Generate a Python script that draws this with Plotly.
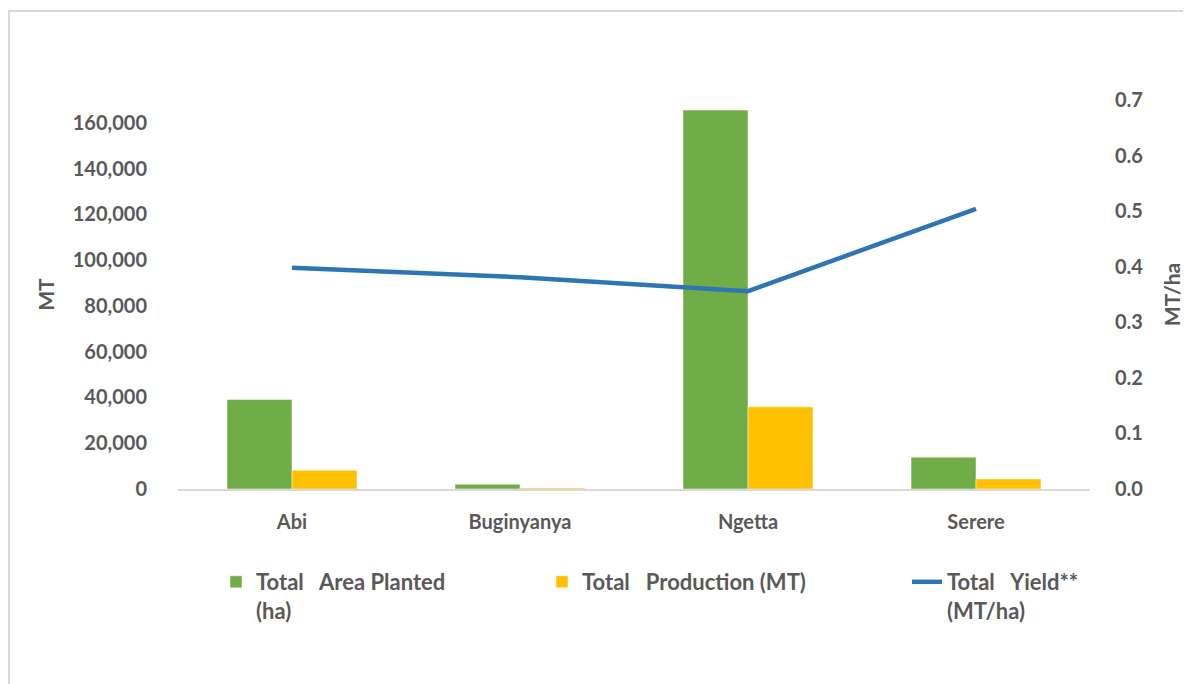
import plotly.graph_objects as go

# data
districts = ['Abi', 'Buginyanya', 'Ngetta', 'Serere']
area_planted = [39100, 2050, 165600, 13900]
production = [8200, 450, 35900, 4400]
yield_mt_ha = [0.398, 0.381, 0.356, 0.504]

left_ticks = [0, 20000, 40000, 60000, 80000, 100000, 120000, 140000, 160000]
right_ticks = [0.0, 0.1, 0.2, 0.3, 0.4, 0.5, 0.6, 0.7]

# the page adds an 8px body margin, so the figure is a bit smaller
OFF = 8
W, H = 1191 - OFF, 684 - OFF
L, T = 178 - OFF, 100 - OFF
R, B = W - (1090 - OFF), H - (489 - OFF)
PW, PH = W - L - R, H - T - B

GREY = '#595959'
FONT = 'Lato'


def px(x):
    # screen pixel -> paper x
    return (x - OFF - L) / PW


def py(y):
    # screen pixel -> paper y
    return (H - B - (y - OFF)) / PH


fig = go.Figure()

fig.add_trace(go.Bar(
    x=districts, y=area_planted,
    name='Total\u00a0\u00a0 Area Planted<br>(ha)',
    marker=dict(color='#70AD47', line=dict(color='rgba(255,255,255,0.6)', width=0.8)),
    legend='legend'))

fig.add_trace(go.Bar(
    x=districts, y=production,
    name='Total\u00a0\u00a0 Production (MT)',
    marker=dict(color='#FFC000', line=dict(color='rgba(255,255,255,0.6)', width=0.8)),
    legend='legend2'))

fig.add_trace(go.Scatter(
    x=districts, y=yield_mt_ha, yaxis='y2', mode='lines',
    name='Total\u00a0\u00a0 Yield**<br>(MT/ha)',
    line=dict(color='#2E75B6', width=4.5),
    legend='legend3'))

legend_base = dict(
    orientation='v', xanchor='left', yanchor='top', valign='top',
    bgcolor='rgba(0,0,0,0)', borderwidth=0,
    font=dict(family=FONT, size=22, color=GREY, weight='bold'))

fig.update_layout(
    width=W, height=H,
    margin=dict(l=L, r=R, t=T, b=B, autoexpand=False),
    paper_bgcolor='white', plot_bgcolor='white',
    font=dict(family=FONT, color=GREY, weight='bold'),
    showlegend=True,
    barmode='group', bargap=0.43, bargroupgap=0,
    xaxis=dict(
        showline=True, linecolor='#D9D9D9', linewidth=2,
        showgrid=False, ticks='', ticklabelstandoff=14,
        tickfont=dict(family=FONT, size=20, color=GREY, weight='bold')),
    yaxis=dict(
        range=[0, 170000], tickvals=left_ticks, tickformat=',',
        showgrid=False, zeroline=False, showline=False, ticks='',
        ticklabelstandoff=30,
        tickfont=dict(family=FONT, size=20, color=GREY, weight='bold'),
        title=dict(text='MT', standoff=12,
                   font=dict(family=FONT, size=21, color=GREY, weight='bold'))),
    yaxis2=dict(
        overlaying='y', side='right',
        range=[0, 0.7], tickvals=right_ticks, tickformat='.1f',
        showgrid=False, zeroline=False, showline=False, ticks='',
        ticklabelstandoff=24,
        tickfont=dict(family=FONT, size=20, color=GREY, weight='bold'),
        title=dict(text='MT/ha', standoff=22,
                   font=dict(family=FONT, size=21, color=GREY, weight='bold'))),
    legend=dict(legend_base, x=px(216), y=py(561)),
    legend2=dict(legend_base, x=px(542), y=py(561)),
    legend3=dict(legend_base, x=px(907), y=py(561)),
    shapes=[dict(
        type='rect', xref='paper', yref='paper',
        x0=px(9), y0=py(700), x1=px(1210), y1=py(11),
        line=dict(color='#D9D9D9', width=2), fillcolor='rgba(0,0,0,0)',
        layer='below')])

fig.write_html('out.html')
